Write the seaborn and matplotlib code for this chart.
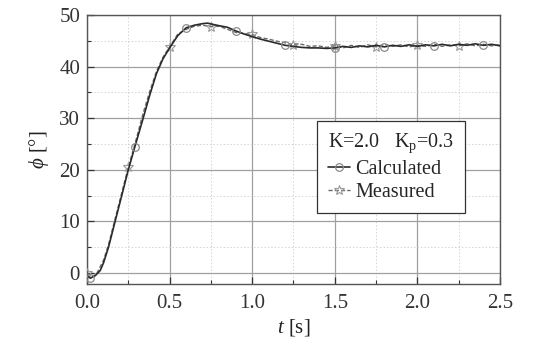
import numpy as np
import pandas as pd
import matplotlib
matplotlib.use("Agg")
import matplotlib.pyplot as plt
from matplotlib.ticker import MultipleLocator
import seaborn as sns

# ---- data ----
t_calc = [0.00, 0.02, 0.05, 0.08, 0.10, 0.13, 0.17, 0.21, 0.25, 0.29, 0.34, 0.38, 0.42, 0.46,
          0.50, 0.55, 0.60, 0.65, 0.70, 0.73, 0.77, 0.80, 0.85, 0.90, 0.95, 1.00, 1.05, 1.10,
          1.15, 1.20, 1.25, 1.30, 1.35, 1.40, 1.45, 1.50, 1.55, 1.60, 1.65, 1.70, 1.75, 1.80,
          1.85, 1.90, 1.95, 2.00, 2.05, 2.10, 2.15, 2.20, 2.25, 2.30, 2.35, 2.40, 2.45, 2.50]
phi_calc = [-0.5, -1.0, -0.5, 0.5, 2.0, 5.0, 10.0, 15.0, 20.0, 24.5, 30.0, 34.5, 38.6, 41.5,
            43.6, 46.0, 47.5, 48.0, 48.3, 48.4, 48.1, 47.9, 47.6, 46.9, 46.3, 45.8, 45.3, 44.9,
            44.5, 44.1, 43.9, 43.7, 43.6, 43.6, 43.5, 43.6, 43.9, 43.7, 44.0, 43.8, 44.1, 43.8,
            44.1, 43.9, 44.2, 43.9, 44.2, 44.0, 44.3, 44.0, 44.3, 44.1, 44.4, 44.1, 44.3, 44.0]

t_meas = [0.00, 0.03, 0.06, 0.10, 0.13, 0.17, 0.21, 0.25, 0.29, 0.34, 0.38, 0.42, 0.46, 0.50,
          0.55, 0.60, 0.65, 0.70, 0.75, 0.80, 0.85, 0.90, 0.95, 1.00, 1.05, 1.10, 1.15, 1.20,
          1.25, 1.30, 1.35, 1.40, 1.45, 1.50, 1.55, 1.60, 1.65, 1.70, 1.75, 1.80, 1.85, 1.90,
          1.95, 2.00, 2.05, 2.10, 2.15, 2.20, 2.25, 2.30, 2.35, 2.40, 2.45, 2.50]
phi_meas = [0.0, -0.8, 0.0, 2.5, 5.5, 10.5, 15.5, 20.5, 25.0, 31.0, 35.2, 39.0, 41.8, 43.8,
            46.3, 47.2, 47.8, 48.0, 47.7, 47.8, 47.2, 46.6, 46.4, 46.2, 45.6, 45.3, 44.9, 44.6,
            44.2, 44.3, 43.9, 44.0, 43.7, 44.0, 43.6, 44.1, 43.7, 44.2, 43.8, 44.3, 43.9, 44.2,
            43.8, 44.1, 43.9, 44.3, 43.9, 44.2, 44.0, 44.4, 44.0, 44.3, 44.0, 44.2]

calc_marker_t = [0.02, 0.29, 0.60, 0.90, 1.20, 1.50, 1.80, 2.10, 2.40]
meas_marker_t = [0.00, 0.25, 0.50, 0.75, 1.00, 1.25, 1.50, 1.75, 2.00, 2.25]

series_names = ["Calculated", "Measured"]
legend_title = "K=2.0   K$_\\mathregular{p}$=0.3"
x_ticks = [0.0, 0.5, 1.0, 1.5, 2.0, 2.5]
y_ticks = [0, 10, 20, 30, 40, 50]

# ---- style ----
sns.set_style("ticks")
plt.rcParams["font.family"] = ["Liberation Serif", "DejaVu Serif"]
plt.rcParams["mathtext.fontset"] = "custom"
plt.rcParams["mathtext.rm"] = "Liberation Serif"
plt.rcParams["mathtext.it"] = "Liberation Serif:italic"

fig = plt.figure(figsize=(5.44, 3.54), dpi=100)
ax = fig.add_axes([0.160, 0.198, 0.759, 0.760])

df_c = pd.DataFrame({"t": t_calc, "phi": phi_calc})
df_m = pd.DataFrame({"t": t_meas, "phi": phi_meas})

def idx(ts, marks):
    ts = np.asarray(ts)
    return [int(np.argmin(np.abs(ts - m))) for m in marks]

sns.lineplot(data=df_c, x="t", y="phi", ax=ax, sort=False, estimator=None,
             color="#2b2b2b", lw=1.2, marker="o", markersize=5.5,
             markerfacecolor="none", markeredgecolor="#8a8a8a", markeredgewidth=0.9,
             markevery=idx(t_calc, calc_marker_t), label=series_names[0], zorder=4)
sns.lineplot(data=df_m, x="t", y="phi", ax=ax, sort=False, estimator=None,
             color="#6a6a6a", lw=1.0, linestyle=(0, (3, 1.5)), marker="*", markersize=7,
             markerfacecolor="none", markeredgecolor="#9a9a9a", markeredgewidth=0.8,
             markevery=idx(t_meas, meas_marker_t), label=series_names[1], zorder=3)

ax.set_xlim(0, 2.5)
ax.set_ylim(-2.1, 50)
ax.set_xticks(x_ticks)
ax.set_xticklabels([f"{v:.1f}" for v in x_ticks])
ax.set_yticks(y_ticks)
ax.xaxis.set_minor_locator(MultipleLocator(0.25))
ax.yaxis.set_minor_locator(MultipleLocator(5))

ax.grid(which="major", color="#a0a0a0", lw=0.9, ls="-", zorder=0)
ax.grid(which="minor", color="#d4d4d4", lw=0.7, ls=(0, (1.5, 2)), zorder=0)
ax.set_axisbelow(True)

ax.tick_params(which="both", direction="in", colors="#333333", labelsize=15,
               top=False, right=False)
ax.tick_params(which="major", length=5, width=0.9)
ax.tick_params(which="minor", length=3, width=0.8)
ax.tick_params(axis="x", pad=7)
ax.tick_params(axis="y", pad=5)
for s in ax.spines.values():
    s.set_color("#555555")
    s.set_linewidth(1.0)

ax.set_xlabel("$\\mathit{t}$ [s]", fontsize=15, color="#222222", labelpad=3)
ax.set_ylabel("$\\mathit{\\phi}$ [°]", fontsize=15, color="#222222", labelpad=6)

leg = ax.legend(title=legend_title, loc="upper left", bbox_to_anchor=(0.557, 0.606),
                borderaxespad=0.0,
                frameon=True, fancybox=False, edgecolor="#333333", framealpha=1,
                fontsize=14.5, title_fontsize=14.5, handlelength=1.1, handletextpad=0.25,
                borderpad=0.55, labelspacing=0.2)
leg.get_frame().set_linewidth(0.9)
leg._legend_box.align = "left"

fig.savefig("out.png", dpi=100)
